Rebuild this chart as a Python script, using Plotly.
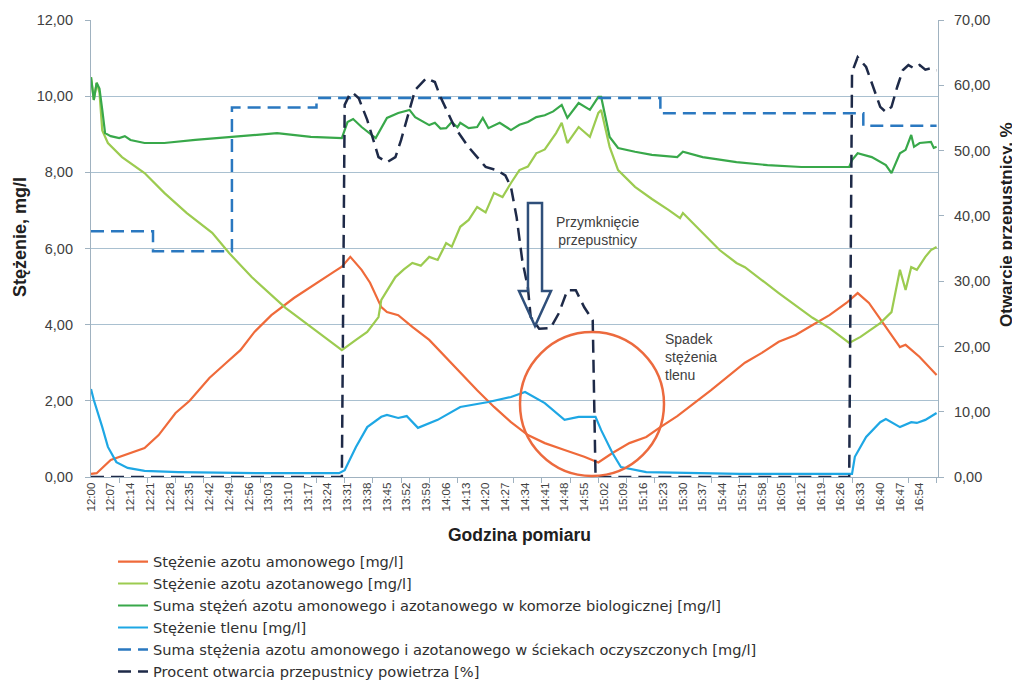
import plotly.graph_objects as go
import pandas as pd

BASE = pd.Timestamp("2024-01-01 12:00")

# --- Data (minutes after 12:00) ---
amon_t = [0, 2, 7, 12, 19, 24, 30, 35, 42, 48, 53, 58, 64, 72, 80, 86, 89, 92, 96, 99, 103, 105, 109,
          114, 120, 126, 131, 137, 143, 149, 155, 161, 168, 175, 180, 185, 191, 197, 202, 208, 214,
          220, 232, 238, 244, 250, 256, 262, 268, 272, 276, 281, 287, 289, 294, 300]
amon_v = [0.08, 0.10, 0.45, 0.58, 0.76, 1.10, 1.68, 2.00, 2.60, 3.00, 3.33, 3.81, 4.25, 4.70, 5.10, 5.38,
          5.52, 5.78, 5.44, 5.10, 4.46, 4.33, 4.25, 3.94, 3.60, 3.13, 2.73, 2.28, 1.84, 1.44, 1.10, 0.89,
          0.71, 0.53, 0.38, 0.63, 0.89, 1.05, 1.31, 1.60, 1.94, 2.28, 3.00, 3.26, 3.55, 3.73, 3.99, 4.25,
          4.57, 4.83, 4.57, 4.04, 3.41, 3.47, 3.15, 2.68]

azot_t = [0, 1, 2, 3, 4, 6, 11, 19, 26, 34, 43, 49, 57, 69, 78, 89, 94, 98, 102, 103, 108, 111, 114,
          117, 120, 123, 126, 128, 131, 134, 137, 140, 143, 146, 149, 152, 155, 158, 161, 165, 167, 169,
          173, 177, 180, 181, 184, 187, 193, 199, 205, 209, 210, 217, 223, 229, 232, 244, 256, 262, 269,
          273, 280, 284, 287, 289, 291, 293, 296, 298, 300]
azot_v = [10.50, 9.90, 10.35, 10.10, 9.10, 8.77, 8.40, 7.98, 7.46, 6.93, 6.41, 5.88, 5.25, 4.44, 3.94,
          3.33, 3.60, 3.81, 4.20, 4.65, 5.25, 5.45, 5.62, 5.55, 5.78, 5.70, 6.14, 6.05, 6.57, 6.75, 7.09,
          6.95, 7.46, 7.35, 7.72, 8.06, 8.15, 8.50, 8.60, 9.03, 9.30, 8.77, 9.19, 8.93, 9.56, 9.64, 8.67,
          8.06, 7.62, 7.30, 7.01, 6.80, 6.93, 6.41, 5.96, 5.62, 5.51, 4.83, 4.18, 3.91, 3.52, 3.68, 4.04,
          4.33, 5.44, 4.91, 5.51, 5.44, 5.78, 5.96, 6.04]

suma_t = [0, 1, 2, 3, 4, 5, 7, 10, 12, 14, 19, 26, 37, 49, 66, 78, 89, 91, 93, 96, 101, 105, 109, 113,
          115, 120, 122, 124, 126, 128, 130, 131, 134, 137, 139, 141, 145, 149, 152, 155, 158, 161, 164,
          167, 169, 173, 177, 180, 181, 184, 187, 193, 199, 208, 210, 217, 229, 240, 252, 269, 270, 272,
          277, 282, 284, 287, 289, 291, 292, 294, 298, 299, 300]
suma_v = [10.50, 9.90, 10.35, 10.20, 9.64, 9.03, 8.95, 8.90, 8.95, 8.85, 8.77, 8.77, 8.85, 8.93, 9.03,
          8.93, 8.90, 9.32, 9.40, 9.19, 8.90, 9.43, 9.56, 9.64, 9.45, 9.24, 9.30, 9.15, 9.16, 9.32, 9.18,
          9.30, 9.16, 9.19, 9.43, 9.16, 9.30, 9.11, 9.25, 9.32, 9.45, 9.50, 9.60, 9.77, 9.43, 9.82, 9.64,
          9.98, 9.98, 8.93, 8.64, 8.54, 8.46, 8.40, 8.54, 8.40, 8.27, 8.19, 8.14, 8.14, 8.32, 8.50, 8.40,
          8.19, 7.98, 8.50, 8.59, 8.98, 8.67, 8.77, 8.80, 8.64, 8.67]

tlen_t = [0, 1, 4, 6, 9, 13, 19, 31, 60, 88, 90, 94, 98, 103, 105, 109, 112, 116, 123, 131, 141, 149,
          154, 161, 168, 173, 179, 181, 185, 188, 197, 230, 270, 271, 275, 280, 282, 287, 291, 293, 296, 300]
tlen_v = [2.31, 2.02, 1.31, 0.79, 0.39, 0.24, 0.16, 0.13, 0.10, 0.10, 0.18, 0.79, 1.31, 1.58, 1.63,
          1.55, 1.60, 1.29, 1.50, 1.84, 1.97, 2.10, 2.23, 1.94, 1.50, 1.58, 1.58, 1.23, 0.63, 0.26, 0.13,
          0.08, 0.08, 0.53, 1.05, 1.44, 1.52, 1.31, 1.44, 1.42, 1.50, 1.68]

odplyw_t = [0, 22, 50, 80, 202, 274, 300]
odplyw_v = [6.45, 5.93, 9.70, 9.95, 9.55, 9.22, 9.22]

zawor_t = [0, 89, 90, 92, 93, 95, 98, 102, 105, 108, 110, 113, 115, 119, 122, 124, 129, 134, 140, 144,
           147, 149, 151, 153, 155, 156, 159, 163, 166, 169, 172, 175, 178, 179, 269, 270, 272, 275, 277,
           280, 282, 284, 286, 288, 290, 292, 294, 296, 298, 300]
zawor_v = [0, 0, 57.0, 58.8, 58.8, 58.0, 54.7, 49.0, 48.2, 49.0, 51.6, 56.2, 59.3, 61.1, 60.5, 58.2,
           53.6, 50.5, 47.5, 47.0, 46.2, 44.4, 39.8, 33.2, 29.0, 24.5, 22.7, 22.8, 25.1, 28.6, 28.6, 26.0,
           24.0, 0, 0, 62.0, 64.3, 62.8, 60.3, 56.7, 55.9, 56.7, 59.7, 62.3, 63.1, 62.6, 63.1, 62.4, 62.6,
           62.3]

names = [
    "Stężenie azotu amonowego [mg/l]",
    "Stężenie azotu azotanowego [mg/l]",
    "Suma stężeń azotu amonowego i azotanowego w komorze biologicznej [mg/l]",
    "Stężenie tlenu [mg/l]",
    "Suma stężenia azotu amonowego i azotanowego w ściekach oczyszczonych [mg/l]",
    "Procent otwarcia przepustnicy powietrza [%]",
]


def tx(mins):
    return BASE + pd.to_timedelta(mins, unit="min")


fig = go.Figure()
fig.add_trace(go.Scatter(x=tx(amon_t), y=amon_v, name=names[0], mode="lines",
                         line=dict(color="#ef6a3a", width=2.2)))
fig.add_trace(go.Scatter(x=tx(azot_t), y=azot_v, name=names[1], mode="lines",
                         line=dict(color="#9ccb50", width=2.2)))
fig.add_trace(go.Scatter(x=tx(suma_t), y=suma_v, name=names[2], mode="lines",
                         line=dict(color="#38a84a", width=2.2)))
fig.add_trace(go.Scatter(x=tx(tlen_t), y=tlen_v, name=names[3], mode="lines",
                         line=dict(color="#1ea7e4", width=2.2)))
fig.add_trace(go.Scatter(x=tx(odplyw_t), y=odplyw_v, name=names[4], mode="lines",
                         line=dict(color="#2a78c0", width=2.5, dash="13px,7px", shape="hv")))
fig.add_trace(go.Scatter(x=tx(zawor_t), y=zawor_v, name=names[5], mode="lines", yaxis="y2",
                         line=dict(color="#1e2a48", width=2.5, dash="13px,7px")))

FONT = "Liberation Sans, Arial, sans-serif"
LFONT = "DejaVu Sans, sans-serif"
GRID = "#a9c0d0"
AX = "#a0b2c0"

# page has an 8px body margin: figure is 1012x672, plot area lands on page x 91..938, y 20..477
fig.update_layout(
    width=1012, height=672,
    margin=dict(l=83, r=82, t=12, b=203, autoexpand=False),
    paper_bgcolor="white", plot_bgcolor="white",
    separators=", ",
    font=dict(family=FONT, color="#404040"),
    showlegend=True,
    legend=dict(x=0.026, y=-0.150, xanchor="left", yanchor="top",
                font=dict(size=14.6, family=LFONT, color="#303030"),
                bgcolor="rgba(0,0,0,0)", tracegroupgap=0, itemwidth=30),
    xaxis=dict(type="date", range=[tx(0), tx(300.5)],
               tick0=tx(0), dtick=7 * 60 * 1000, tickformat="%H:%M", tickangle=-90,
               tickfont=dict(size=11.5, color="#404040"),
               ticks="", showgrid=False, zeroline=False,
               showline=True, linecolor=AX, linewidth=1.2,
               minor=dict(dtick=10 * 60 * 1000, tick0=tx(0), ticks="outside", ticklen=5,
                          tickcolor=AX, showgrid=False)),
    yaxis=dict(range=[0, 12], dtick=2, tickformat=".2f",
               tickfont=dict(size=14.5, color="#404040"), ticklabelstandoff=9,
               showgrid=True, gridcolor=GRID, gridwidth=1.2, zeroline=False,
               showline=True, linecolor=AX, linewidth=1.2,
               ticks="outside", ticklen=5, tickcolor=AX),
    yaxis2=dict(range=[0, 70], dtick=10, tickformat=".2f", overlaying="y", side="right",
                tickfont=dict(size=14.5, color="#404040"), ticklabelstandoff=7,
                showgrid=False, zeroline=False,
                showline=True, linecolor=AX, linewidth=1.2,
                ticks="outside", ticklen=5, tickcolor=AX),
)

W, H, X0, Y0 = 847.0, 457.0, 91.0, 477.0


def px(x):
    return (x - X0) / W


def py(y):
    return (Y0 - y) / H


# hollow arrow
arrow = [(528, 203), (542, 203), (542, 291), (551, 291), (535, 326), (519, 291), (528, 291)]
path = "M " + " L ".join(f"{px(a):.4f},{py(b):.4f}" for a, b in arrow) + " Z"
fig.add_shape(type="path", path=path, xref="paper", yref="paper",
              line=dict(color="#2f4f7a", width=2.5), fillcolor="rgba(0,0,0,0)")

# circle
fig.add_shape(type="circle", xref="paper", yref="paper",
              x0=px(520), x1=px(664), y0=py(476), y1=py(332),
              line=dict(color="#ec6a3e", width=2.5))

ann_font = dict(family=FONT, size=14, color="#404040")
fig.add_annotation(x=px(597), y=py(231), xref="paper", yref="paper", showarrow=False,
                   text="Przymknięcie<br>przepustnicy", font=ann_font, align="center",
                   xanchor="center", yanchor="middle")
fig.add_annotation(x=px(663), y=py(357), xref="paper", yref="paper", showarrow=False,
                   text="Spadek<br>stężenia<br>tlenu", font=ann_font, align="left",
                   xanchor="left", yanchor="middle")

# axis titles
fig.add_annotation(x=px(20), y=py(237), xref="paper", yref="paper", showarrow=False,
                   text="<b>Stężenie, mg/l</b>", textangle=-90,
                   font=dict(family=FONT, size=18, color="#202020"),
                   xanchor="center", yanchor="middle")
fig.add_annotation(x=px(1006), y=py(225), xref="paper", yref="paper", showarrow=False,
                   text="<b>Otwarcie przepustnicy, %</b>", textangle=-90,
                   font=dict(family=FONT, size=17, color="#202020"),
                   xanchor="center", yanchor="middle")
fig.add_annotation(x=px(520), y=py(535), xref="paper", yref="paper", showarrow=False,
                   text="<b>Godzina pomiaru</b>",
                   font=dict(family=FONT, size=17.5, color="#202020"),
                   xanchor="center", yanchor="middle")

fig.write_html("out.html")
